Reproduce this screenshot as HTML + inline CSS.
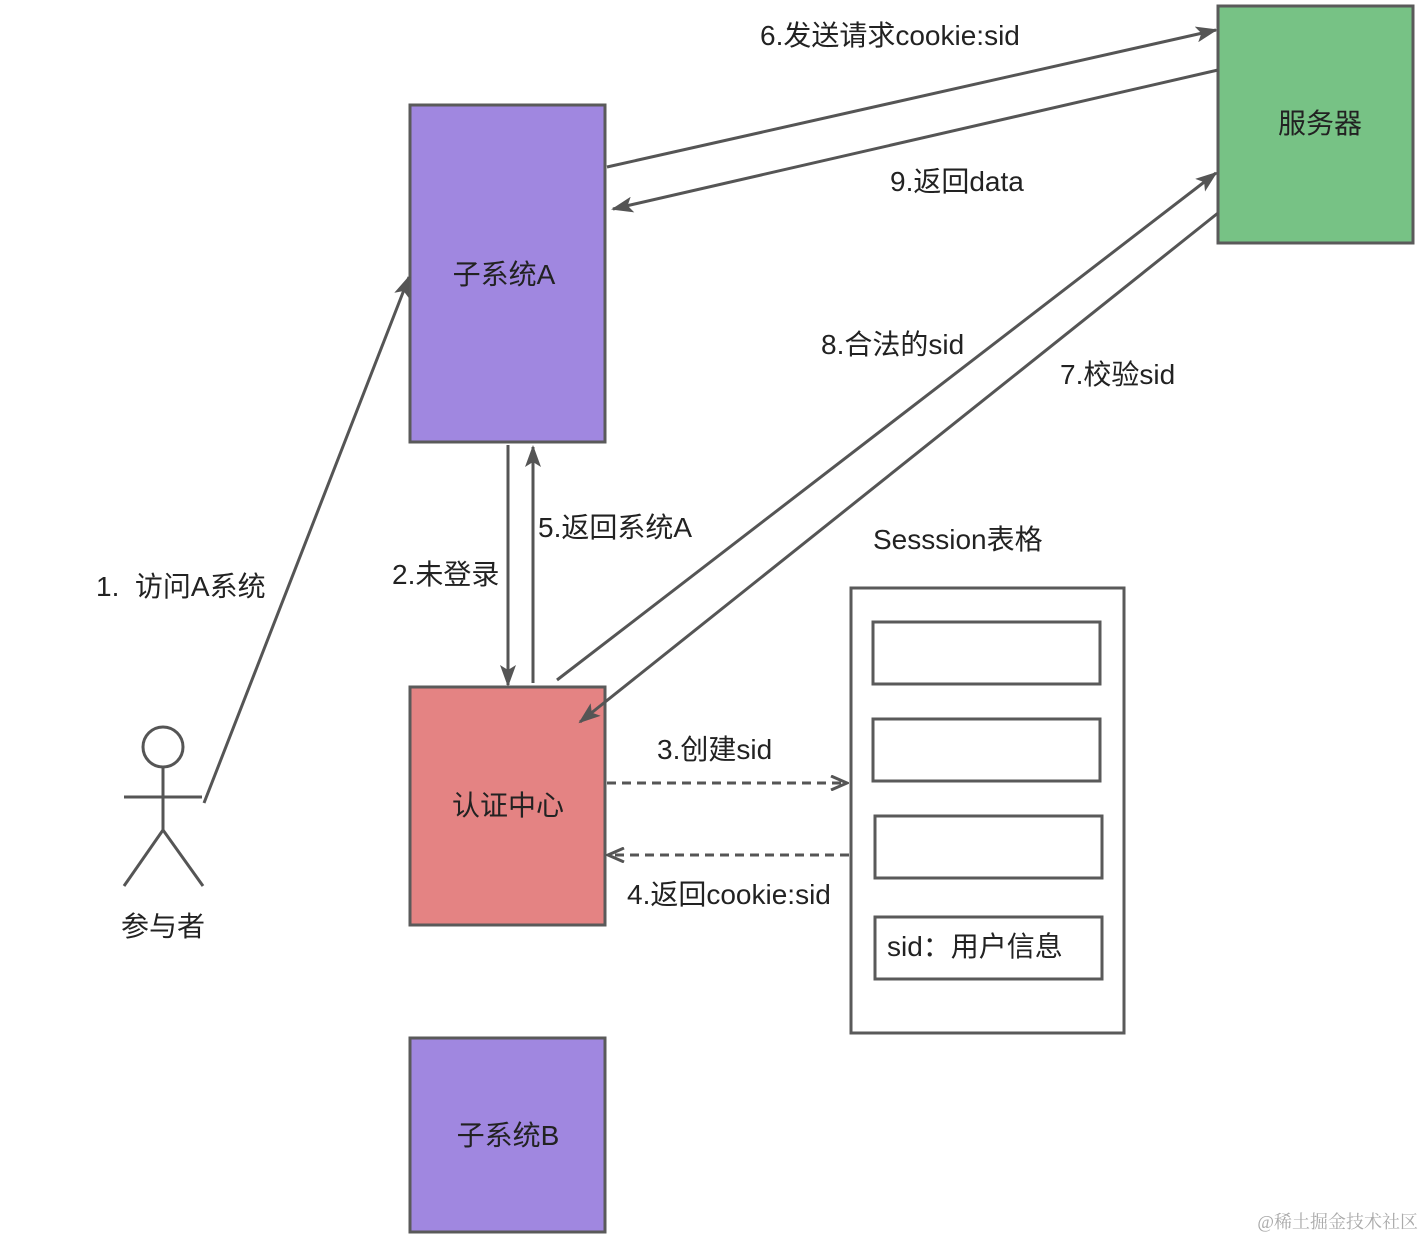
<!DOCTYPE html>
<html><head><meta charset="utf-8"><style>
html,body{margin:0;padding:0;background:#fff;}
svg{display:block;}
text{font-family:"Liberation Sans","Noto Sans CJK SC",sans-serif;fill:#222;white-space:pre;}
</style></head><body>
<svg width="1424" height="1238" viewBox="0 0 1424 1238" xmlns="http://www.w3.org/2000/svg">
<defs>
<marker id="f" viewBox="0 0 22 16" refX="20" refY="8" markerWidth="22" markerHeight="16" orient="auto" markerUnits="userSpaceOnUse"><path d="M0,0 L22,8 L0,16 L5,8 Z" fill="#555"/></marker>
<marker id="o" viewBox="0 0 20 16" refX="18" refY="8" markerWidth="20" markerHeight="16" orient="auto" markerUnits="userSpaceOnUse"><path d="M2,1 L18,8 L2,15" fill="none" stroke="#555" stroke-width="3"/></marker>
</defs>
<g stroke="#5a5a5a" stroke-width="3">
<rect x="410" y="105" width="195" height="337" fill="#a087e0"/>
<rect x="1218" y="6" width="195" height="237" fill="#77c285"/>
<rect x="410" y="687" width="195" height="238" fill="#e48383"/>
<rect x="410" y="1038" width="195" height="194" fill="#a087e0"/>
<rect x="851" y="588" width="273" height="445" fill="#fff"/>
<rect x="873" y="622" width="227" height="62" fill="#fff"/>
<rect x="873" y="719" width="227" height="62" fill="#fff"/>
<rect x="875" y="816" width="227" height="62" fill="#fff"/>
<rect x="875" y="917" width="227" height="62" fill="#fff"/>
</g>
<g stroke="#555" stroke-width="3" fill="none">
<line x1="204" y1="803" x2="409" y2="277" marker-end="url(#f)"/>
<line x1="508" y1="445" x2="508" y2="685" marker-end="url(#f)"/>
<line x1="533" y1="683" x2="533" y2="447" marker-end="url(#f)"/>
<line x1="607" y1="167" x2="1216" y2="30" marker-end="url(#f)"/>
<line x1="1218" y1="70" x2="613" y2="209" marker-end="url(#f)"/>
<line x1="557" y1="680" x2="1216" y2="173" marker-end="url(#f)"/>
<line x1="1218" y1="213" x2="580" y2="722" marker-end="url(#f)"/>
<line x1="607" y1="783" x2="847" y2="783" stroke-dasharray="9,6" marker-end="url(#o)"/>
<line x1="849" y1="855" x2="608" y2="855" stroke-dasharray="9,6" marker-end="url(#o)"/>
<circle cx="163" cy="747" r="20"/>
<line x1="163" y1="767" x2="163" y2="830"/>
<line x1="124" y1="797" x2="202" y2="797"/>
<line x1="163" y1="830" x2="124" y2="886"/>
<line x1="163" y1="830" x2="203" y2="886"/>
</g>
<g font-size="28">
<text x="504" y="284" text-anchor="middle">子系统A</text>
<text x="1320" y="133" text-anchor="middle">服务器</text>
<text x="508" y="815" text-anchor="middle">认证中心</text>
<text x="508" y="1145" text-anchor="middle">子系统B</text>
<text x="760" y="45">6.发送请求cookie:sid</text>
<text x="890" y="191">9.返回data</text>
<text x="821" y="354">8.合法的sid</text>
<text x="1060" y="384">7.校验sid</text>
<text x="538" y="537">5.返回系统A</text>
<text x="392" y="584">2.未登录</text>
<text x="96" y="596">1.  访问A系统</text>
<text x="873" y="549">Sesssion表格</text>
<text x="657" y="759">3.创建sid</text>
<text x="627" y="904">4.返回cookie:sid</text>
<text x="887" y="956">sid：用户信息</text>
<text x="163" y="936" text-anchor="middle">参与者</text>
</g>
<text x="1418" y="1228" text-anchor="end" font-size="18" style="fill:#aaa;font-family:'Liberation Serif','Noto Serif CJK SC',serif">@稀土掘金技术社区</text>
</svg>
</body></html>
